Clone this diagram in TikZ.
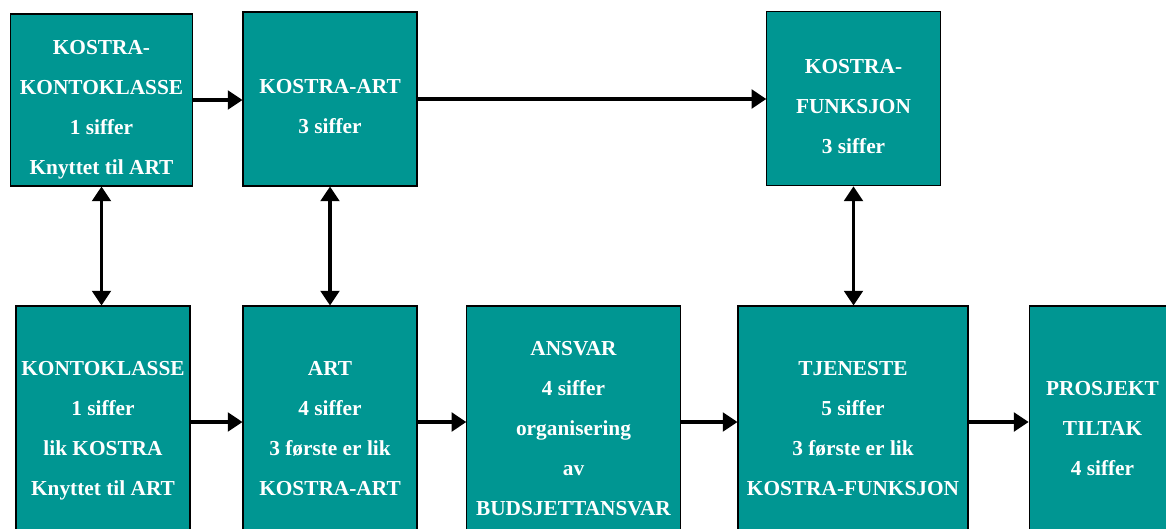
\documentclass[tikz,border=0pt]{standalone}
\usepackage{fontspec}
\setmainfont{Liberation Serif}
\usetikzlibrary{arrows.meta}

\definecolor{kostraTeal}{RGB}{0,150,146}

\newcommand{\lines}[2][0pt]{\raisebox{#1}[\height][\depth]{\begin{tabular}{@{}c@{}}#2\end{tabular}}}

\tikzstyle{boxMain} = [draw = black,
                       line width = 0.8pt,
                       fill = kostraTeal,
                       text = white,
                       inner sep = 0pt,
                       font = \fontsize{16}{30}\selectfont\bfseries
                       ]
\tikzstyle{arrMain} = [line width = 2.3pt,
                       -{Triangle[length = 11pt, width = 14pt]}
                       ]
\tikzstyle{arrBoth} = [line width = 2.3pt,
                       {Triangle[length = 11pt, width = 14pt]}-{Triangle[length = 11pt, width = 14pt]}
                       ]

\begin{document}
\begin{tikzpicture}[x = 0.75pt, y = -0.75pt]

    \useasboundingbox (0, 0) rectangle (1166, 528);
    \clip (0, 0) rectangle (1166, 528);

    %%% Top row
    % Kostra-kontoklasse
    \node (KK) at (101.5, 100) [boxMain, minimum width = 137pt, minimum height = 129pt]
        {\lines[-4.5pt]{KOSTRA-\\KONTOKLASSE\\1 siffer\\Knyttet til ART}};

    % Kostra-art
    \node (KA) at (330, 99) [boxMain, minimum width = 130.5pt, minimum height = 130.5pt]
        {\lines[-5.25pt]{KOSTRA-ART\\3 siffer}};

    % Kostra-funksjon
    \node (KF) at (853.5, 98.5) [boxMain, minimum width = 130pt, minimum height = 131pt]
        {\lines[-5.5pt]{KOSTRA-\\FUNKSJON\\3 siffer}};

    %%% Bottom row
    % Kontoklasse
    \node (K) at (103, 427) [boxMain, minimum width = 130.5pt, minimum height = 181.5pt]
        {\lines{KONTOKLASSE\\1 siffer\\lik KOSTRA\\Knyttet til ART}};

    % Art
    \node (A) at (330, 427) [boxMain, minimum width = 130.5pt, minimum height = 181.5pt]
        {\lines{ART\\4 siffer\\3 første er lik\\KOSTRA-ART}};

    % Ansvar
    \node (AN) at (573.5, 427) [boxMain, minimum width = 160pt, minimum height = 181.5pt]
        {\lines{ANSVAR\\4 siffer\\organisering\\av\\BUDSJETTANSVAR}};

    % Tjeneste
    \node (T) at (853, 427) [boxMain, minimum width = 172.5pt, minimum height = 181.5pt]
        {\lines{TJENESTE\\5 siffer\\3 første er lik\\KOSTRA-FUNKSJON}};

    % Prosjekt
    \node (P) at (1102.5, 427) [boxMain, minimum width = 110pt, minimum height = 181.5pt]
        {\lines{PROSJEKT\\TILTAK\\4 siffer}};

    %%% Arrows
    % Top row
    \draw[arrMain] (KK.east) -- (KK.east -| KA.west);
    \draw[arrMain] (KA.east) -- (KA.east -| KF.west);

    % Between rows
    \draw[arrBoth] (KK.south) -- (KK.south |- K.north);
    \draw[arrBoth] (KA.south) -- (A.north);
    \draw[arrBoth] (KF.south) -- (KF.south |- T.north);

    % Bottom row
    \draw[arrMain] ([yshift = 3.75pt]K.east) -- ([yshift = 3.75pt]A.west);
    \draw[arrMain] ([yshift = 3.75pt]A.east) -- ([yshift = 3.75pt]AN.west);
    \draw[arrMain] ([yshift = 3.75pt]AN.east) -- ([yshift = 3.75pt]T.west);
    \draw[arrMain] ([yshift = 3.75pt]T.east) -- ([yshift = 3.75pt]P.west);

\end{tikzpicture}
\end{document}
